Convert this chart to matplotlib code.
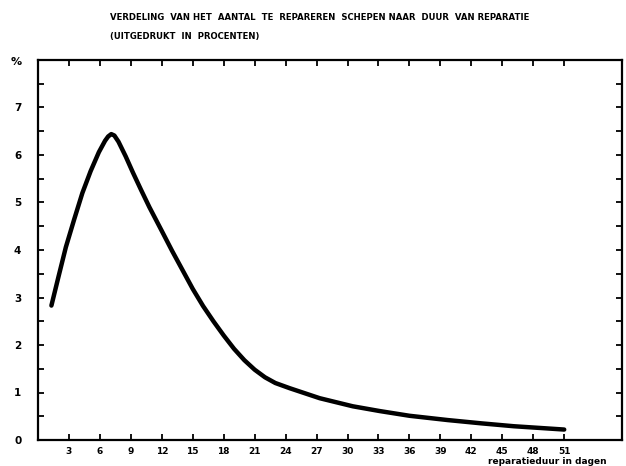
import matplotlib
matplotlib.use("Agg")
import matplotlib.pyplot as plt
import numpy as np

# data
days = [1.3, 2.0, 2.7, 3.5, 4.3, 5.1, 5.9, 6.5, 6.8, 7.1, 7.4, 7.8, 8.5, 9.2, 10.0, 10.8, 12.0, 13.0, 14.0, 15.0,
        16.0, 17.0, 18.0, 19.0, 20.0, 21.0, 22.0, 23.0, 24.4, 27.3, 30.5, 33.1, 36.0, 39.7, 43.0, 46.1, 51.0]
pct = [2.83, 3.45, 4.06, 4.64, 5.20, 5.66, 6.06, 6.30, 6.39, 6.44, 6.41, 6.28, 5.97, 5.63, 5.26, 4.90, 4.40, 3.98, 3.58, 3.18,
       2.82, 2.50, 2.20, 1.92, 1.68, 1.48, 1.32, 1.20, 1.09, 0.88, 0.71, 0.61, 0.51, 0.42, 0.35, 0.29, 0.22]
xticks = list(range(3, 52, 3))
yticks = list(range(0, 8))

title1 = "VERDELING  VAN HET  AANTAL  TE  REPAREREN  SCHEPEN NAAR  DUUR  VAN REPARATIE"
title2 = "(UITGEDRUKT  IN  PROCENTEN)"
xlabel = "reparatieduur in dagen"

fig = plt.figure(figsize=(6.26, 4.66), dpi=100)
ax = fig.add_axes([38/626, 1-440/466, (622-38)/626, (440-60)/466])
ax.plot(days, pct, color="black", lw=3.2, solid_capstyle="round", solid_joinstyle="round")
ax.set_xlim(0, 56.6)
ax.set_ylim(0, 8)
for s in ax.spines.values():
    s.set_linewidth(1.6)

ax.set_xticks(xticks)
ax.set_xticklabels([str(t) for t in xticks], fontsize=6.5, fontweight="bold")
ax.set_yticks(yticks)
ax.set_yticklabels([str(t) for t in yticks], fontsize=7.5, fontweight="bold")
ax.set_yticks(np.arange(0.5, 8, 1.0), minor=True)
ax.tick_params(axis="x", which="major", direction="in", length=4, width=1.3, top=True, pad=5)
ax.tick_params(axis="y", which="both", direction="in", length=4, width=1.3, right=True, pad=12)

fig.text(110/626, 1-17/466, title1, fontsize=6.1, fontweight="bold", va="center", ha="left")
fig.text(110/626, 1-37/466, title2, fontsize=6.1, fontweight="bold", va="center", ha="left")
fig.text(16/626, 1-62/466, "%", fontsize=8, fontweight="bold", va="center", ha="center")
fig.text(607/626, 1-462/466, xlabel, fontsize=6.5, fontweight="bold", va="center", ha="right")

fig.savefig("out.png", dpi=100)
